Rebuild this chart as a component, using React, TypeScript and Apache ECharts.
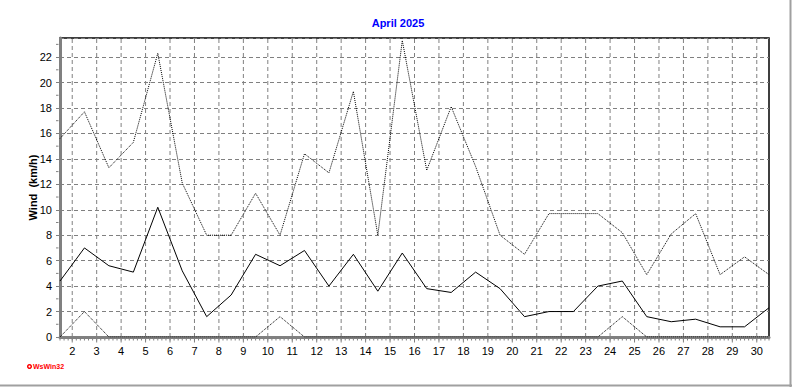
import React, { useEffect, useRef } from "react";
import * as echarts from "echarts";

const days = [1, 2, 3, 4, 5, 6, 7, 8, 9, 10, 11, 12, 13, 14, 15, 16, 17, 18, 19, 20, 21, 22, 23, 24, 25, 26, 27, 28, 29, 30];
const windMax = [15.6, 17.7, 13.3, 15.3, 22.3, 12.1, 8.0, 8.0, 11.3, 8.0, 14.4, 12.9, 19.3, 8.0, 23.3, 13.1, 18.1, 13.4, 8.0, 6.5, 9.7, 9.7, 9.7, 8.2, 4.9, 8.1, 9.7, 4.9, 6.3, 4.9];
const windAvg = [4.4, 7.0, 5.6, 5.1, 10.2, 5.2, 1.6, 3.3, 6.5, 5.6, 6.8, 4.0, 6.5, 3.6, 6.6, 3.8, 3.5, 5.1, 3.8, 1.6, 2.0, 2.0, 4.0, 4.4, 1.6, 1.2, 1.4, 0.8, 0.8, 2.3];
const windMin = [0, 2.0, 0, 0, 0, 0, 0, 0, 0, 1.6, 0, 0, 0, 0, 0, 0, 0, 0, 0, 0, 0, 0, 0, 1.6, 0, 0, 0, 0, 0, 0];
const xTickLabels = [2, 3, 4, 5, 6, 7, 8, 9, 10, 11, 12, 13, 14, 15, 16, 17, 18, 19, 20, 21, 22, 23, 24, 25, 26, 27, 28, 29, 30];

const FONT = "Arial, 'Liberation Sans', sans-serif";
const X_MIN = 1.5;
const X_MAX = 30.5;
const Y_MAX = 23.5;

export default function App() {
  const ref = useRef<HTMLDivElement>(null);
  useEffect(() => {
    if (!ref.current) return;
    const chart = echarts.init(ref.current, undefined, { renderer: "svg" });
    const gray = "#808080";
    const xMinor: number[][] = [];
    for (let i = 0; i <= 29 * 6; i++) xMinor.push([X_MIN + i / 6, 0]);
    const yMinor: number[][] = [];
    for (let i = 1; i <= 23; i += 2) yMinor.push([X_MIN, i]);
    const xGrid = xTickLabels.map((v) => [v, 0]);
    const pts = (vals: number[]) => days.map((d, i) => [d + 0.5, vals[i]]);
    chart.setOption({
      animation: false,
      backgroundColor: "#ffffff",
      title: {
        text: "April 2025",
        left: 398,
        top: 17,
        padding: 0,
        textAlign: "center",
        textStyle: { color: "#0000ff", fontSize: 11, fontWeight: "bold", fontFamily: FONT },
      },
      grid: { left: 60, right: 23, top: 38, bottom: 50, show: true, borderColor: "#000", borderWidth: 1.5, backgroundColor: "transparent" },
      xAxis: {
        type: "value",
        min: X_MIN,
        max: X_MAX,
        position: "bottom",
        axisLine: { show: true, onZero: false, lineStyle: { color: gray, width: 3 } },
        axisTick: { show: false },
        axisLabel: { customValues: xTickLabels, formatter: (v: number) => String(v), color: "#000", fontSize: 11, fontFamily: FONT, margin: 8 },
        splitLine: { show: false },
        minorSplitLine: { show: false },
      },
      yAxis: {
        type: "value",
        min: 0,
        max: Y_MAX,
        interval: 2,
        position: "left",
        name: "Wind  (km/h)",
        nameLocation: "middle",
        nameGap: 22,
        nameMoveOverlap: false,
        nameTextStyle: { color: "#000", fontSize: 11, fontWeight: "bold", fontFamily: FONT },
        axisLine: { show: true, onZero: false, lineStyle: { color: gray, width: 3 } },
        axisTick: { show: true, length: 4, lineStyle: { color: gray } },
        axisLabel: { showMaxLabel: false, color: "#000", fontSize: 11, fontFamily: FONT, margin: 8 },
        splitLine: { show: true, lineStyle: { color: gray, type: [4, 3], width: 1 } },
        minorSplitLine: { show: false },
      },
      series: [
        {
          name: "xGrid",
          type: "custom",
          clip: false,
          silent: true,
          data: xGrid,
          renderItem: (params: any, api: any) => {
            const b = api.coord([api.value(0), 0]);
            const t = api.coord([api.value(0), Y_MAX]);
            return {
              type: "group",
              children: [
                { type: "line", shape: { x1: b[0], y1: b[1], x2: t[0], y2: t[1] }, style: { stroke: gray, lineWidth: 1, lineDash: [4, 3] } },
                { type: "line", shape: { x1: b[0], y1: b[1] + 1.5, x2: b[0], y2: b[1] + 5.5 }, style: { stroke: gray, lineWidth: 1 } },
              ],
            };
          },
          z: 1,
        },
        {
          name: "xMinorTicks",
          type: "custom",
          clip: false,
          silent: true,
          data: xMinor,
          renderItem: (params: any, api: any) => {
            const p = api.coord([api.value(0), api.value(1)]);
            return { type: "line", shape: { x1: p[0], y1: p[1] + 1.5, x2: p[0], y2: p[1] + 3.5 }, style: { stroke: gray, lineWidth: 1 } };
          },
          z: 1,
        },
        {
          name: "yMinorTicks",
          type: "custom",
          clip: false,
          silent: true,
          data: yMinor,
          renderItem: (params: any, api: any) => {
            const p = api.coord([api.value(0), api.value(1)]);
            return { type: "line", shape: { x1: p[0] - 1.5, y1: p[1], x2: p[0] - 4, y2: p[1] }, style: { stroke: gray, lineWidth: 1 } };
          },
          z: 1,
        },
        { name: "Max", type: "line", data: pts(windMax), showSymbol: false, symbol: "none", lineStyle: { color: "#000", width: 1, type: [1, 1] }, z: 3 },
        { name: "Avg", type: "line", data: pts(windAvg), showSymbol: false, symbol: "none", lineStyle: { color: "#000", width: 1 }, z: 3 },
        { name: "Min", type: "line", data: pts(windMin), showSymbol: false, symbol: "none", lineStyle: { color: "#000", width: 1, type: [1, 1] }, z: 4 },
      ],
      graphic: [
        { type: "line", shape: { x1: 0, y1: 385.5, x2: 792, y2: 385.5 }, style: { stroke: "#a0a0a0", lineWidth: 2 } },
        { type: "line", shape: { x1: 790.5, y1: 0, x2: 790.5, y2: 387 }, style: { stroke: "#a0a0a0", lineWidth: 2 } },
        { type: "circle", shape: { cx: 29.5, cy: 366.5, r: 1.8 }, style: { fill: "#fff", stroke: "#ff0000", lineWidth: 1.5 } },
        { type: "text", x: 33, y: 366.5, style: { text: "WsWin32", fill: "#ff0000", font: "bold 7px " + FONT, verticalAlign: "middle" } },
      ],
    });
    return () => chart.dispose();
  }, []);
  return <div ref={ref} style={{ width: 792, height: 387, position: "absolute", left: 0, top: 0 }} />;
}
